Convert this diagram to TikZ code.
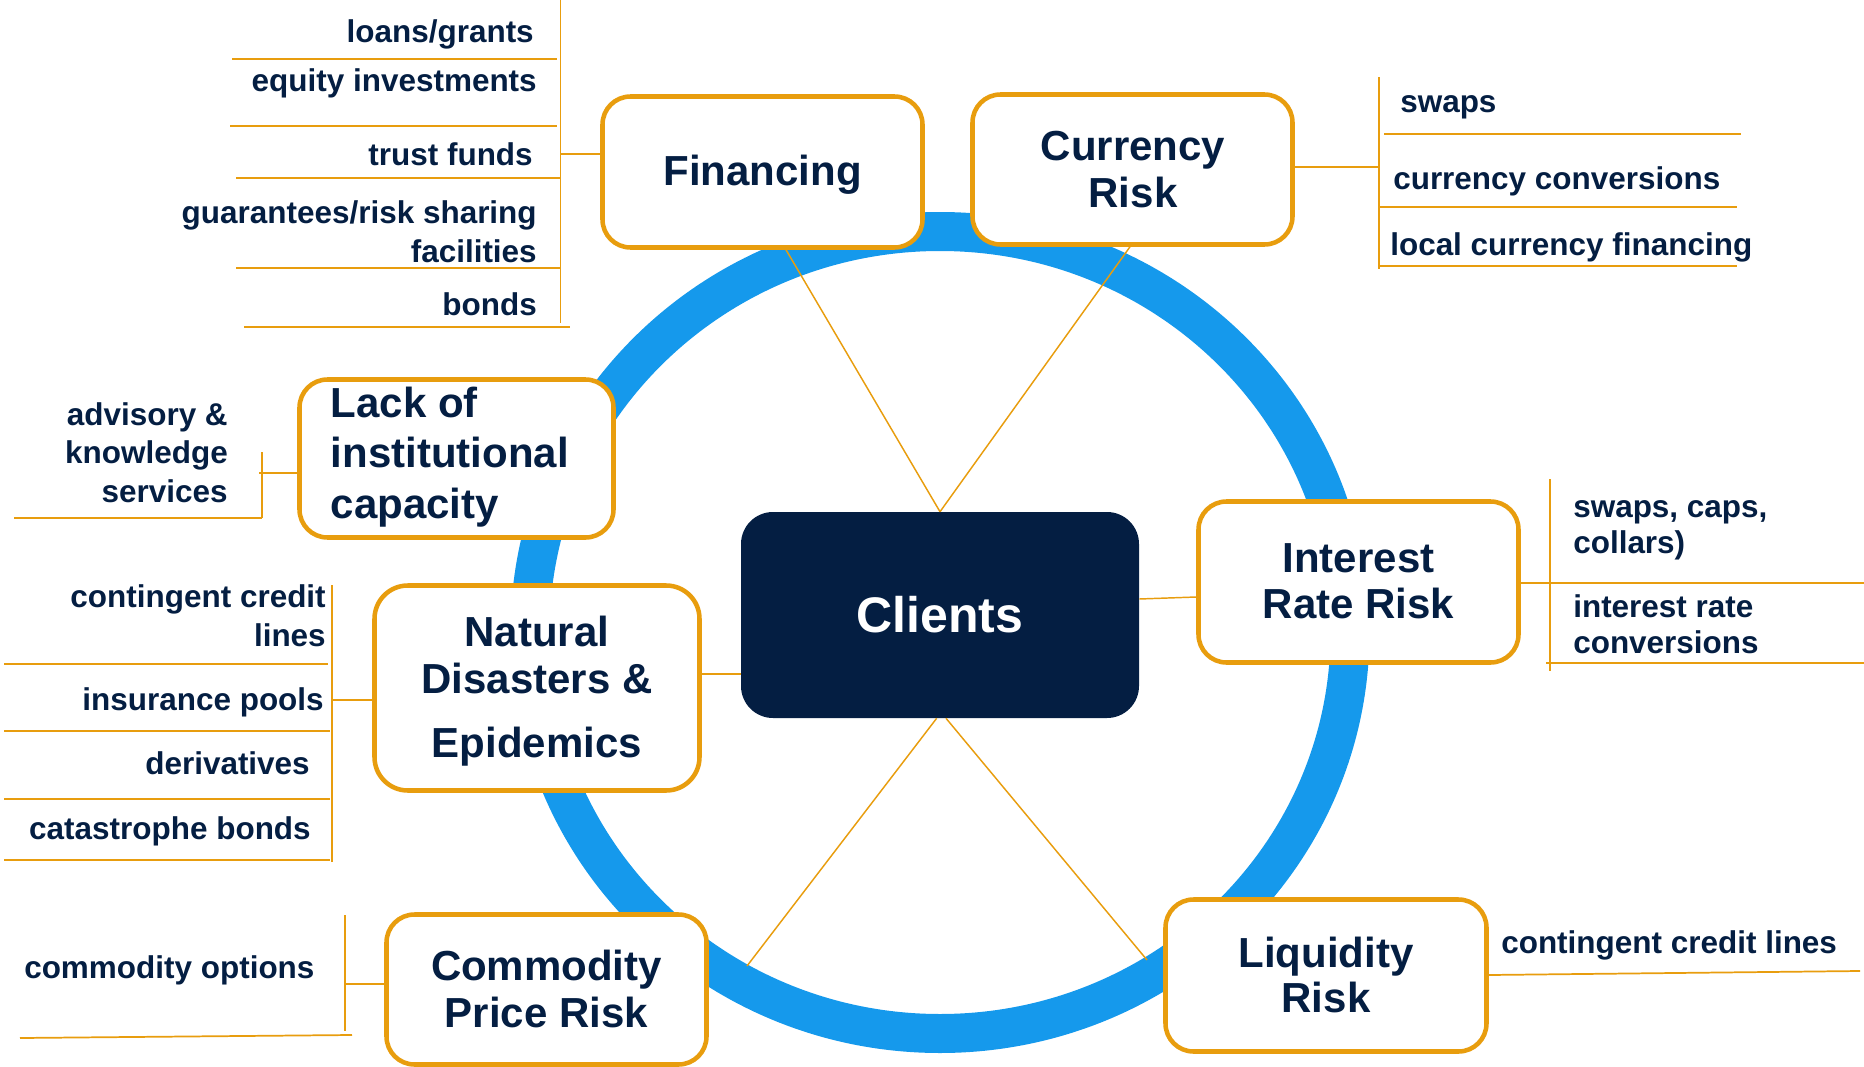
\documentclass[tikz,border=0pt]{standalone}
\usepackage{fontspec}
\setmainfont{Liberation Sans}
\usetikzlibrary{calc}
\definecolor{navy}{RGB}{4,30,66}
\definecolor{ringblue}{RGB}{21,153,236}
\definecolor{amber}{RGB}{232,157,14}
\newcommand{\txtstack}[2]{\begin{tabular}[t]{@{}#1@{}}#2\end{tabular}}

\begin{document}
\begin{tikzpicture}[x=0.75pt,y=-0.75pt,
  riskbox/.style={draw=amber, line width=3.4pt, rounded corners=21pt, fill=white, inner sep=0pt},
  title/.style={text=navy, inner sep=0pt, font=\bfseries\fontsize{31.5}{#1}\selectfont},
  title/.default=34,
  leaf/.style={text=navy, inner sep=0pt, font=\bfseries\fontsize{23.6}{#1}\selectfont},
  leaf/.default=28.5,
  rule/.style={draw=amber, line width=1.3pt},
  link/.style={draw=amber, line width=1.1pt}
]
\useasboundingbox (0,0) rectangle (1864,1067);

% blue ring behind everything
\draw[ringblue, line width=29.25pt] (940,632.5) ellipse [x radius=307.5pt, y radius=300.75pt];

% central node
\node[fill=navy, rounded corners=24pt, minimum width=298.5pt, minimum height=154.5pt, inner sep=0pt] (cli) at (940,615) {};

% risk boxes
\node[riskbox, minimum width=240pt, minimum height=113.25pt] (fin) at (762.5,172) {};
\node[riskbox, minimum width=240pt, minimum height=112.5pt] (cur) at (1132.5,169.5) {};
\node[riskbox, minimum width=240pt, minimum height=120.75pt] (irr) at (1358.5,582) {};
\node[riskbox, minimum width=240.75pt, minimum height=114pt] (liq) at (1326,975.5) {};
\node[riskbox, minimum width=240pt, minimum height=112.5pt] (com) at (546.5,989.5) {};
\node[riskbox, rounded corners=25pt, minimum width=243.75pt, minimum height=153.75pt] (nat) at (537,688) {};
\node[riskbox, minimum width=235.5pt, minimum height=118.5pt] (lac) at (456.5,458.5) {};

% spokes from the clients box
\coordinate (comEnd) at (747,966);
\coordinate (liqEnd) at (1147,960);
\draw[link] (cli.north) -- (fin.south -| 786,0);
\draw[link] (cli.north) -- (cur.south -| 1130,0);
\draw[link] ([xshift=-2.5pt]cli.south) -- (comEnd);
\draw[link] ([xshift=4.5pt]cli.south) -- (liqEnd);
\draw[link] (cli.east |- 0,599) -- (irr.west |- 0,597);
\draw[link] (cli.west |- 0,674) -- (nat.east |- 0,674);

% box titles
\node[font=\bfseries\fontsize{37.5}{45}\selectfont, text=white, inner sep=0pt, anchor=base] (cliT) at (940,632) {Clients};
\node[title, anchor=base] (finT) at (762.5,185) {Financing};
\node[title=35.25, anchor=base] (curT) at (1133,160) {\txtstack{c}{Currency\\Risk}};
\node[title=34.5, anchor=base] (irrT) at (1358.5,572) {\txtstack{c}{Interest\\Rate Risk}};
\node[title=33.75, anchor=base] (liqT) at (1326,967) {\txtstack{c}{Liquidity\\Risk}};
\node[title=35.25, anchor=base] (comT) at (546.5,980) {\txtstack{c}{Commodity\\Price Risk}};
\node[title=35.25, anchor=base] (natT) at (537,646) {\txtstack{c}{Natural\\Disasters \&\\[12.75pt]Epidemics}};
\node[title=37.9, anchor=base west] (lacT) at (330.5,417) {\txtstack{l}{Lack of\\institutional\\capacity}};

% financing instruments
\coordinate (finBus) at (560.5,154);
\draw[rule] (560.5,0) -- (560.5,323);
\draw[rule] (finBus) -- (finBus -| fin.west);
\draw[rule] (232,59) -- (557,59);
\draw[rule] (230,126) -- (557,126);
\draw[rule] (236,178) -- (560,178);
\draw[rule] (236,268) -- (560,268);
\draw[rule] (244,327) -- (570,327);
\node[leaf, anchor=base east] (f1) at (534,42) {loans/grants};
\node[leaf, anchor=base east] (f2) at (537,91) {equity investments};
\node[leaf, anchor=base east] (f3) at (533,165) {trust funds};
\node[leaf=29.25, anchor=base east] (f4) at (537,223) {\txtstack{r}{guarantees/risk sharing\\facilities}};
\node[leaf, anchor=base east] (f5) at (537,315) {bonds};

% currency instruments
\coordinate (curBus) at (1379,167);
\draw[rule] (1379,77) -- (1379,269);
\draw[rule] (curBus -| cur.east) -- (curBus);
\draw[rule] (1384,134) -- (1741,134);
\draw[rule] (1379,207) -- (1737,207);
\draw[rule] (1379,266) -- (1737,266);
\node[leaf, anchor=base west] (c1) at (1400,112) {swaps};
\node[leaf, anchor=base west] (c2) at (1393,189) {currency conversions};
\node[leaf, anchor=base west] (c3) at (1390,255) {local currency financing};

% institutional capacity
\coordinate (lacBus) at (259,473);
\draw[rule] (262,452) -- (262,518);
\draw[rule, line width=1.6pt] (lacBus) -- (lacBus -| lac.west);
\draw[rule] (14,518) -- (262,518);
\node[leaf=28.9, anchor=base east] (l1) at (228,425) {\txtstack{r}{advisory \&\\knowledge\\services}};

% natural disasters instruments
\coordinate (natBus) at (332,700);
\draw[rule] (332,585) -- (332,862);
\draw[rule] (natBus) -- (natBus -| nat.west);
\draw[rule] (4,664) -- (328,664);
\draw[rule] (4,731) -- (330,731);
\draw[rule] (4,799) -- (330,799);
\draw[rule] (4,860) -- (330,860);
\node[leaf=29.25, anchor=base east] (n1) at (326,607) {\txtstack{r}{contingent credit\\lines}};
\node[leaf, anchor=base east] (n2) at (324,710) {insurance pools};
\node[leaf, anchor=base east] (n3) at (310,774) {derivatives};
\node[leaf, anchor=base east] (n4) at (311,839) {catastrophe bonds};

% interest rate instruments
\draw[rule] (1550,479) -- (1550,671);
\draw[rule] (irr.east |- 0,583) -- (1864,583);
\draw[rule] (1546,663) -- (1864,663);
\node[leaf=27, anchor=base west] (i1) at (1573,517) {\txtstack{l}{swaps, caps,\\collars)}};
\node[leaf=27, anchor=base west] (i2) at (1573,617) {\txtstack{l}{interest rate\\conversions}};

% liquidity instrument
\coordinate (liqTail) at (1860,971);
\draw[rule] (liq.east |- 0,975) -- (liqTail);
\node[leaf, anchor=base west] (q1) at (1501,953) {contingent credit lines};

% commodity instrument
\coordinate (comBus) at (345,984);
\draw[rule] (345,915) -- (345,1031);
\draw[rule] (comBus) -- (comBus -| com.west);
\draw[rule] (20,1038) -- (352,1035);
\node[leaf, anchor=base west] (k1) at (24,978) {commodity options};
\end{tikzpicture}
\end{document}
